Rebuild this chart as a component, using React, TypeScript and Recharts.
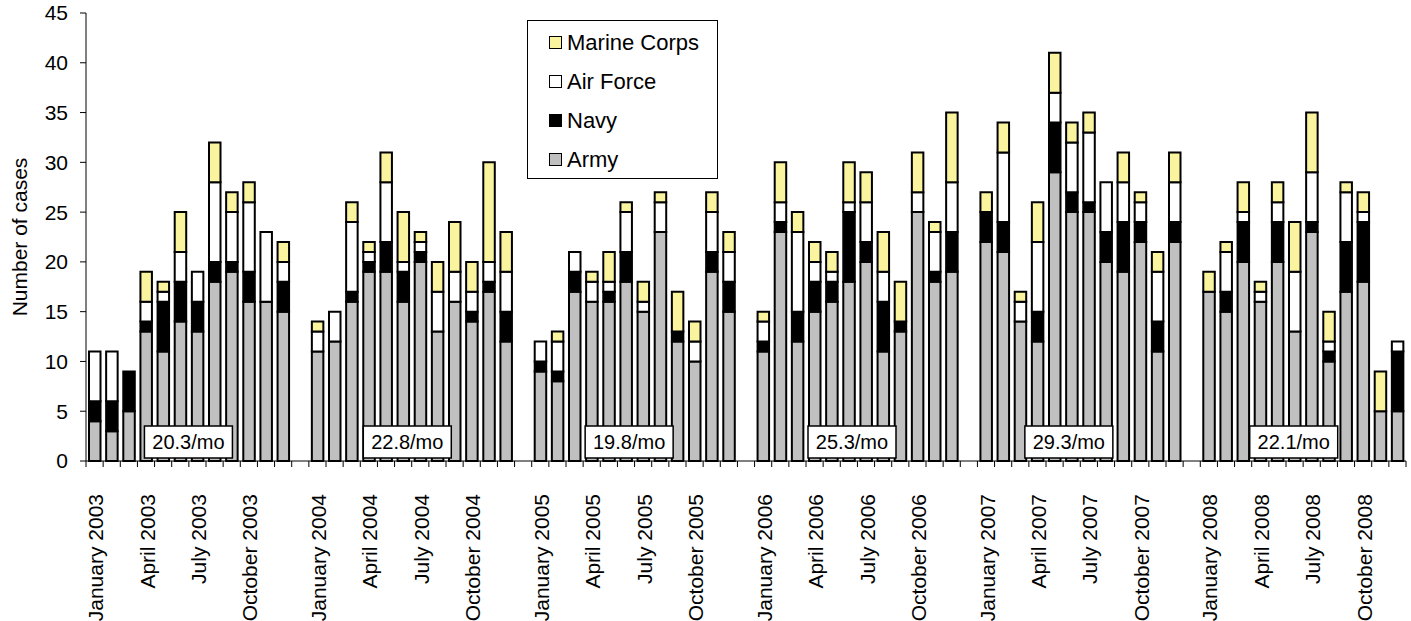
import React from 'react';
import { BarChart, Bar, XAxis, YAxis, Legend, ReferenceDot } from 'recharts';

const years = [2003, 2004, 2005, 2006, 2007, 2008];
const monthNames = ['January', 'February', 'March', 'April', 'May', 'June', 'July', 'August', 'September', 'October', 'November', 'December'];
const labelMonths = ['January', 'April', 'July', 'October'];
const yTicks = [0, 5, 10, 15, 20, 25, 30, 35, 40, 45];

// cases per month, one row per year
const army = [
  [4, 3, 5, 13, 11, 14, 13, 18, 19, 16, 16, 15],
  [11, 12, 16, 19, 19, 16, 20, 13, 16, 14, 17, 12],
  [9, 8, 17, 16, 16, 18, 15, 23, 12, 10, 19, 15],
  [11, 23, 12, 15, 16, 18, 20, 11, 13, 25, 18, 19],
  [22, 21, 14, 12, 29, 25, 25, 20, 19, 22, 11, 22],
  [17, 15, 20, 16, 20, 13, 23, 10, 17, 18, 5, 5],
];
const navy = [
  [2, 3, 4, 1, 5, 4, 3, 2, 1, 3, 0, 3],
  [0, 0, 1, 1, 3, 3, 1, 0, 0, 1, 1, 3],
  [1, 1, 2, 0, 1, 3, 0, 0, 1, 0, 2, 3],
  [1, 1, 3, 3, 2, 7, 2, 5, 1, 0, 1, 4],
  [3, 3, 0, 3, 5, 2, 1, 3, 5, 2, 3, 2],
  [0, 2, 4, 0, 4, 0, 1, 1, 5, 6, 0, 6],
];
const airForce = [
  [5, 5, 0, 2, 1, 3, 3, 8, 5, 7, 7, 2],
  [2, 3, 7, 1, 6, 1, 1, 4, 3, 2, 2, 4],
  [2, 3, 2, 2, 1, 4, 1, 3, 0, 2, 4, 3],
  [2, 2, 8, 2, 1, 1, 4, 3, 0, 2, 4, 5],
  [0, 7, 2, 7, 3, 5, 7, 5, 4, 2, 5, 4],
  [0, 4, 1, 1, 2, 6, 5, 1, 5, 1, 0, 1],
];
const marineCorps = [
  [0, 0, 0, 3, 1, 4, 0, 4, 2, 2, 0, 2],
  [1, 0, 2, 1, 3, 5, 1, 3, 5, 3, 10, 4],
  [0, 1, 0, 1, 3, 1, 2, 1, 4, 2, 2, 2],
  [1, 4, 2, 2, 2, 4, 3, 4, 4, 4, 1, 7],
  [2, 3, 1, 4, 4, 2, 2, 0, 3, 1, 2, 3],
  [2, 1, 3, 1, 2, 5, 6, 3, 1, 2, 4, 0],
];
const monthlyRates = ['20.3/mo', '22.8/mo', '19.8/mo', '25.3/mo', '29.3/mo', '22.1/mo'];

const series = [
  { key: 'army', name: 'Army', color: '#c0c0c0' },
  { key: 'navy', name: 'Navy', color: '#000000' },
  { key: 'airForce', name: 'Air Force', color: '#ffffff' },
  { key: 'marineCorps', name: 'Marine Corps', color: '#faf49e' },
];

const chartData: any[] = [];
years.forEach((year, yi) => {
  monthNames.forEach((m, mi) => {
    chartData.push({
      month: `${m} ${year}`,
      army: army[yi][mi],
      navy: navy[yi][mi],
      airForce: airForce[yi][mi],
      marineCorps: marineCorps[yi][mi],
    });
  });
  if (yi < years.length - 1) chartData.push({ month: `gap ${year}` });
});

const W = 1411;
const H = 621;
const MARGIN = { top: 13, right: 5, bottom: 0, left: 0 };
const Y_AXIS_W = 86;
const FONT = '"Liberation Sans", Arial, sans-serif';
const STEP = (W - MARGIN.left - MARGIN.right - Y_AXIS_W) / chartData.length;
const BOX_SHIFT = [-9, -13, -14, -14, -20, -18];

const MonthTick = (props: any) => {
  const { x, y, payload } = props;
  const value: string = payload.value;
  const isLast = value === chartData[chartData.length - 1].month;
  const showLabel = labelMonths.some((m) => value.startsWith(m + ' '));
  const ty = y + 33;
  return (
    <g>
      <line x1={x - STEP / 2} x2={x - STEP / 2} y1={y} y2={y + 6} stroke="#000" />
      {isLast && <line x1={x + STEP / 2} x2={x + STEP / 2} y1={y} y2={y + 6} stroke="#000" />}
      {showLabel && (
        <text
          x={x + 1}
          y={ty}
          dy="0.36em"
          textAnchor="end"
          transform={`rotate(-90, ${x + 1}, ${ty})`}
          fontSize={21}
          fontFamily={FONT}
          fill="#000"
        >
          {value}
        </text>
      )}
    </g>
  );
};

const RateBox = (text: string, shift: number) => (props: any) => {
  const { cx, cy } = props;
  const w = 88;
  const h = 32;
  const left = cx + shift - w / 2;
  const top = cy - 3 - h;
  return (
    <g>
      <rect x={left} y={top} width={w} height={h} fill="#fff" stroke="#000" strokeWidth={1.5} />
      <text x={left + w / 2} y={top + h / 2} dy="0.36em" textAnchor="middle" fontSize={20} fontFamily={FONT} fill="#000">
        {text}
      </text>
    </g>
  );
};

const LegendBox = () => (
  <div
    style={{
      width: 189,
      height: 155,
      border: '1px solid #000',
      background: '#fff',
      boxSizing: 'content-box',
      paddingTop: 2,
    }}
  >
    {[...series].reverse().map((s) => (
      <div key={s.key} style={{ display: 'flex', alignItems: 'center', height: 39, paddingLeft: 21 }}>
        <span
          style={{
            display: 'inline-block',
            width: 11,
            height: 11,
            background: s.color,
            border: '1.5px solid #000',
            marginRight: 5,
          }}
        />
        <span style={{ fontSize: 22, fontFamily: FONT, color: '#000' }}>{s.name}</span>
      </div>
    ))}
  </div>
);

export default function App() {
  return (
    <div style={{ position: 'absolute', left: 0, top: 0, width: W, height: H, background: '#fff' }}>
      <BarChart width={W} height={H} data={chartData} margin={MARGIN}>
        <XAxis
          dataKey="month"
          interval={0}
          tickLine={false}
          tickSize={0}
          tickMargin={0}
          height={160}
          axisLine={{ stroke: '#000' }}
          tick={<MonthTick />}
        />
        <YAxis
          width={Y_AXIS_W}
          domain={[0, 45]}
          ticks={yTicks}
          interval={0}
          tickSize={6}
          tickMargin={12}
          axisLine={{ stroke: '#000' }}
          tickLine={{ stroke: '#000' }}
          tick={{ fontSize: 21, fontFamily: FONT, fill: '#000' }}
          label={{
            value: 'Number of cases',
            angle: -90,
            position: 'insideLeft',
            offset: 20,
            style: { textAnchor: 'middle', fontSize: 21, fontFamily: FONT, fill: '#000' },
          }}
        />
        <Legend
          layout="vertical"
          align="center"
          verticalAlign="middle"
          content={<LegendBox />}
          wrapperStyle={{ position: 'absolute', left: 527, top: 20, width: 191, height: 157 }}
        />
        {series.map((s) => (
          <Bar
            key={s.key}
            dataKey={s.key}
            name={s.name}
            stackId="a"
            fill={s.color}
            stroke="#000"
            strokeWidth={2}
            barSize={11.5}
            isAnimationActive={false}
          />
        ))}
        {years.map((year, i) => (
          <ReferenceDot
            key={year}
            x={`July ${year}`}
            y={0}
            r={0}
            shape={RateBox(monthlyRates[i], BOX_SHIFT[i])}
          />
        ))}
      </BarChart>
    </div>
  );
}
